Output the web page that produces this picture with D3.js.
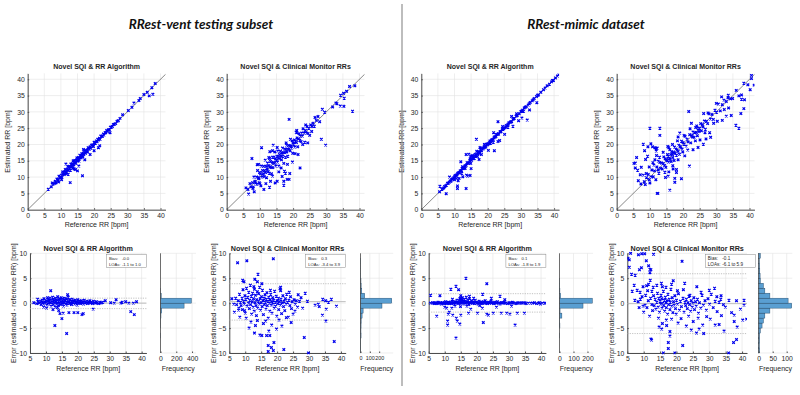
<!DOCTYPE html>
<html>
<head>
<meta charset="utf-8">
<script src="https://cdn.jsdelivr.net/npm/d3@7/dist/d3.min.js"></script>
<style>
body { margin: 0; background: #fff; }
text { font-family: "Liberation Sans", Arial, sans-serif; fill: #262626; }
.tick text { font-size: 6.8px; fill: #262626; }
.tick line, .domain { stroke: #4d4d4d; }
</style>
</head>
<body>
<svg id="fig" width="800" height="395"></svg>
<script>
// DATA: [reference RR, error (estimated - reference)]
const ventAlg = [
  [6.2,0.1],[7.1,-0.1],[7.4,0.8],[7.6,0.2],[8.0,0.0],[8.3,0.4],[8.5,-0.3],[8.8,0.6],[9.0,0.1],[9.2,-0.2],
  [9.4,0.9],[9.6,0.3],[9.9,0.0],[10.1,0.5],[10.3,-0.4],[10.5,1.1],[10.6,0.2],[10.8,0.7],[11.0,-0.2],[11.1,0.4],
  [11.3,1.0],[11.5,0.1],[11.6,-0.6],[11.8,0.6],[12.0,0.2],[12.1,1.2],[12.3,-0.3],[12.4,0.8],[12.6,0.0],[12.7,0.5],
  [12.9,-0.8],[13.0,1.0],[13.1,0.3],[13.3,-0.2],[13.4,0.7],[13.6,0.1],[13.7,1.3],[13.9,-0.5],[14.0,0.4],[14.2,0.9],
  [14.3,0.0],[14.5,-0.3],[14.6,0.6],[14.8,1.1],[14.9,0.2],[15.1,-0.1],[15.2,0.8],[15.4,0.3],[15.5,-0.6],[15.7,1.0],
  [15.8,0.1],[16.0,0.5],[16.1,-0.2],[16.3,0.9],[16.4,0.2],[16.6,-0.4],[16.7,0.6],[16.9,0.0],[17.0,1.2],[17.2,0.3],
  [17.4,-0.1],[17.5,0.7],[17.7,0.1],[17.9,0.4],[18.0,-0.3],[18.2,0.8],[18.4,0.2],[18.6,0.0],[18.8,0.5],[19.0,-0.2],
  [19.2,0.6],[19.4,0.1],[19.6,0.3],[19.8,-0.4],[20.0,0.7],[20.2,0.2],[20.4,0.0],[20.7,0.4],[20.9,-0.1],[21.1,0.5],
  [21.3,0.1],[21.6,0.3],[21.8,-0.2],[22.0,0.6],[22.3,0.2],[22.5,0.0],[22.8,0.4],[23.0,-0.1],[23.3,0.3],[23.5,0.1],
  [23.8,0.5],[24.0,0.0],[24.3,0.2],[24.6,-0.1],[24.9,0.4],[25.2,0.1],[25.5,0.0],[25.8,0.3],[26.1,0.1],[26.5,-0.1],
  [26.9,0.2],[27.3,0.0],[27.8,0.2],[28.6,0.5],[30.3,0.1],[31.4,0.0],[32.0,0.7],[33.5,0.0],[33.9,0.2],[35.0,0.3],
  [36.0,0.0],[37.4,0.0],[38.4,0.3],
  [11.5,2.5],[16.8,1.7],[12.8,-4.5],[16.5,-6.1],[15.0,-3.1],[14.4,-2.1],[15.4,-2.0],[17.2,-1.9],[18.8,-1.9],[20.0,-1.9],
  [21.3,-2.3],[21.7,-2.1],[13.6,-0.9],[36.6,-1.7],[37.7,-2.3],[10.2,-1.0],[12.2,-1.3],[14.0,-1.5],[24.8,-1.2],[9.3,-0.8]
];

const ventMon = [
  [7.6,8.1],[10.5,8.5],[18.8,8.9],[9.2,4.6],[9.6,4.3],[14.0,5.8],[13.0,4.8],[13.8,4.3],[21.1,3.2],[21.1,2.5],
  [28.8,2.0],[34.3,0.8],[37.0,0.8],[35.2,0.5],[32.9,-0.2],[33.2,-0.7],[31.9,-0.4],[29.5,0.4],[27.0,0.4],[25.7,-0.2],
  [35.4,-1.2],[34.2,-2.4],[35.3,-3.6],[37.9,-7.7],[28.5,-6.9],[29.8,-10.0],[19.0,-7.9],[17.2,-8.5],[17.2,-9.7],[18.2,-8.9],
  [18.8,-9.5],[22.1,-9.3],[16.7,-6.5],[17.7,-6.5],[14.6,-6.4],[15.2,-6.5],[12.9,-6.0],[17.4,-5.6],[21.5,-4.6],[18.3,-4.4],
  [15.7,-4.1],[13.8,-3.5],[11.8,-3.8],[10.3,-3.0],[8.3,-2.8],[6.6,-1.8],[5.8,0.9],[6.4,-0.2],[38.6,-0.6],[36.1,0.2],
  [7.0,1.0],[7.3,-0.3],[7.8,0.5],[8.0,-1.0],[8.2,1.8],[8.5,0.2],[8.7,-0.5],[9.0,1.0],[9.1,-1.3],[9.3,2.7],
  [9.5,0.4],[9.7,-0.2],[9.9,1.5],[10.0,-2.0],[10.2,0.8],[10.4,3.0],[10.6,-0.6],[10.8,1.2],[11.0,0.0],[11.1,2.2],
  [11.3,-1.1],[11.4,0.6],[11.6,3.6],[11.7,-0.3],[11.9,1.4],[12.0,-2.2],[12.2,0.3],[12.3,2.0],[12.5,-0.8],[12.6,0.9],
  [12.8,-1.6],[12.9,2.8],[13.1,0.1],[13.2,1.6],[13.4,-0.5],[13.5,-2.5],[13.6,0.7],[13.8,2.3],[13.9,-1.0],[14.1,0.4],
  [14.2,1.9],[14.4,-0.2],[14.5,3.2],[14.7,0.9],[14.8,-1.4],[15.0,0.1],[15.1,1.3],[15.3,-0.7],[15.4,2.6],[15.6,0.5],
  [15.7,-2.3],[15.9,1.0],[16.0,-0.3],[16.2,1.7],[16.3,0.2],[16.5,-1.2],[16.6,0.8],[16.8,2.1],[16.9,-0.5],[17.1,0.4],
  [17.2,-3.0],[17.4,1.2],[17.5,0.0],[17.7,-1.6],[17.8,0.7],[18.0,1.8],[18.1,-0.4],[18.3,0.3],[18.4,-2.0],[18.6,1.1],
  [18.7,-0.2],[18.9,0.6],[19.1,-1.0],[19.2,2.4],[19.4,0.2],[19.5,-0.6],[19.7,1.4],[19.9,-2.6],[20.0,0.5],[20.2,-0.1],
  [20.4,1.0],[20.5,-1.3],[20.7,0.3],[20.9,2.9],[21.0,-0.4],[21.2,0.8],[21.4,-2.1],[21.6,0.1],[21.8,1.5],[22.0,-0.7],
  [22.2,0.4],[22.4,-1.5],[22.6,0.9],[22.8,-0.2],[23.0,1.8],[23.3,0.2],[23.5,-2.8],[23.7,0.6],[24.0,-0.5],[24.2,1.3],
  [24.5,-1.1],[24.7,0.3],[25.0,-2.2],[25.3,0.7],[25.6,-1.6],[26.0,0.5],[26.4,-0.8],[27.5,1.1],[28.0,-1.0],[24.4,-3.9],
  [20.6,-3.4],[16.4,-3.6],[13.2,-4.5],[11.2,-5.0],[19.8,-5.2],[22.9,-2.9],[9.8,-1.5],[7.9,-1.4],[15.2,3.9],[12.7,3.3],
  [17.9,2.6],[26.6,1.7],[23.8,2.2]
];

const mimicAlg = [
  [5.6,1.6],[8.5,1.5],[16.6,5.0],[23.1,3.9],[13.5,3.4],[11.9,2.8],[14.3,2.7],[15.0,1.5],[17.7,1.4],[21.8,1.8],
  [24.5,1.0],[27.2,1.4],[14.9,1.0],[15.4,0.7],[7.5,-2.6],[10.6,-1.0],[10.0,-0.8],[12.2,-1.0],[11.1,-2.2],[11.4,-1.8],
  [12.5,-2.4],[13.6,-3.0],[13.9,-3.6],[10.9,-3.6],[10.9,-4.4],[14.7,-4.2],[13.5,-7.0],[15.0,-2.4],[17.4,-2.0],[20.2,-2.0],
  [22.0,-3.9],[23.1,-2.2],[23.6,-2.4],[25.1,-2.0],[27.6,-2.0],[29.3,-2.0],[30.3,-2.2],[31.9,-4.4],[32.6,-2.0],[34.8,-2.0],
  [5.5,0.0],[6.2,0.1],[6.8,-0.1],[7.3,0.0],[7.9,0.2],[8.4,0.0],[8.9,-0.2],[9.3,0.1],[9.8,0.0],[10.2,0.3],
  [10.7,0.0],[11.1,0.2],[11.5,-0.1],[11.9,0.0],[12.3,0.4],[12.7,0.1],[13.0,-0.2],[13.4,0.0],[13.8,0.6],[14.1,0.2],
  [14.4,-0.1],[14.7,0.9],[15.0,0.3],[15.2,0.0],[15.5,1.1],[15.7,0.5],[16.0,-0.2],[16.2,0.8],[16.5,0.2],[16.7,1.2],
  [17.0,0.0],[17.2,0.6],[17.5,-0.3],[17.7,0.9],[18.0,0.1],[18.3,0.5],[18.6,0.0],[18.9,0.3],[19.2,-0.1],[19.5,0.6],
  [19.8,0.0],[20.1,0.2],[20.4,-0.2],[20.7,0.4],[21.0,0.0],[21.3,0.2],[21.6,-0.1],[22.0,0.3],[22.3,0.0],[22.6,0.5],
  [23.0,0.1],[23.3,-0.1],[23.7,0.2],[24.0,0.0],[24.4,0.4],[24.8,0.1],[25.2,-0.1],[25.6,0.2],[26.0,0.0],[26.4,0.3],
  [26.8,0.0],[27.2,-0.2],[27.6,0.1],[28.0,0.0],[28.5,0.2],[29.0,0.0],[29.5,-0.1],[30.0,0.1],[30.5,0.0],[31.0,0.2],
  [31.6,0.0],[32.2,-0.1],[32.8,0.1],[33.4,0.0],[34.0,0.1],[34.7,0.0],[35.3,-0.1],[36.0,0.0],[36.8,0.0],[37.9,0.1],
  [38.6,-0.1],[39.2,0.0],[39.8,-0.2],[41.0,0.0],[41.4,0.0],[12.4,0.8],[13.2,-0.6],[16.9,-0.6],[19.0,1.0],[20.9,-0.5],
  [14.9,-0.7],[18.1,-1.2],[21.7,-1.0],[26.1,-0.8],[28.7,0.7],[30.8,-0.6],
  [6.5,0.0],[7.0,0.1],[7.6,-0.1],[8.1,0.0],[8.7,0.1],[9.1,0.0],[9.6,-0.1],[10.0,0.1],[10.5,-0.1],[10.9,0.1],
  [11.3,0.0],[11.7,0.2],[12.1,-0.1],[12.5,0.1],[12.9,0.0],[13.2,0.3],[13.6,0.1],[14.2,0.0],[14.6,0.4],[15.1,0.1],
  [15.6,0.0],[16.1,0.3],[16.6,0.0],[17.1,0.3],[17.6,0.1],[18.1,0.0],[18.8,0.1],[19.4,0.0],[20.0,0.0],[20.6,0.1],
  [21.2,0.0],[21.9,0.1],[22.5,0.0],[23.2,0.1],[23.9,0.0],[24.6,0.1],[25.4,0.0],[26.2,0.1],[27.0,0.0],[27.8,0.1],
  [28.8,0.0],[30.2,0.0],[31.3,0.1],[32.5,0.0],[33.7,0.0],[35.0,0.1],[37.3,0.0],[39.5,0.1],[40.4,0.0]
];

const mimicMon = [
  [5.6,8.7],[5.6,7.2],[6.3,5.8],[7.4,5.6],[8.7,6.7],[9.3,7.1],[8.4,9.7],[9.4,9.9],[10.3,9.9],[13.0,9.8],
  [10.8,8.5],[11.5,7.5],[11.9,6.8],[12.2,6.7],[11.9,6.1],[7.1,3.6],[8.0,2.6],[8.9,2.2],[9.5,1.3],[9.8,-0.6],
  [10.4,-0.4],[7.3,0.6],[8.3,0.3],[21.7,8.4],[9.8,3.3],[10.9,3.5],[11.5,3.8],[11.2,2.5],[12.5,2.4],[12.9,3.2],
  [14.0,3.6],[15.4,4.0],[15.7,3.3],[16.8,3.2],[18.5,3.8],[20.3,2.5],[22.1,2.7],[26.2,3.3],[24.1,1.6],[31.6,3.0],
  [32.3,1.3],[33.5,0.8],[38.3,0.5],[34.3,-0.3],[40.6,-0.4],[36.8,-1.9],[37.6,-2.4],[37.6,-3.7],[40.2,-3.4],[31.8,-4.4],
  [33.0,-4.3],[34.5,-5.6],[37.4,-7.9],[35.9,-10.0],[26.9,-5.2],[26.1,-6.0],[28.3,-6.1],[25.1,-3.7],[26.6,-3.0],[29.2,-2.7],
  [30.3,-3.2],[23.7,-2.6],[21.4,-3.1],[21.9,-8.5],[15.5,-5.2],[18.0,-5.7],[18.0,-6.6],[17.5,-7.9],[17.5,-9.1],[19.5,-10.0],
  [16.0,-10.0],[12.4,-7.4],[14.7,-4.8],[15.7,-4.1],[16.9,-3.4],[18.5,-3.2],[19.9,-2.2],
  [10.0,15.0],[13.0,12.0],[36.8,-11.8],[8.0,12.1],[6.0,10.0],[5.2,9.0],[12.2,-7.2],[38.3,-7.3],[41.4,-3.2],[40.6,0.6],
  [13.0,1.5],[13.2,-0.5],[13.5,0.8],[13.7,-1.2],[14.0,0.2],[14.2,2.0],[14.4,-0.8],[14.6,1.0],[14.8,-1.8],[15.0,0.4],
  [15.2,-0.2],[15.3,1.6],[15.5,0.9],[15.6,-1.0],[15.8,0.0],[16.0,2.4],[16.1,-0.5],[16.3,0.6],[16.4,-1.6],[16.6,1.2],
  [16.8,0.1],[16.9,-0.9],[17.1,0.5],[17.3,-2.2],[17.4,1.8],[17.6,-0.3],[17.8,0.8],[18.0,-1.3],[18.1,0.2],[18.3,2.8],
  [18.5,-0.6],[18.7,1.1],[18.9,-1.9],[19.1,0.3],[19.3,-0.4],[19.5,1.5],[19.7,-1.1],[20.0,0.6],[20.3,-0.2],[20.6,1.9],
  [20.9,-1.4],[21.2,0.4],[21.5,-0.7],[22.0,1.0],[22.3,-1.8],[22.6,0.2],[22.8,-0.5],[23.0,0.8],[23.3,-1.1],[23.5,0.1],
  [23.8,1.4],[24.0,-0.3],[24.3,-1.6],[24.5,0.5],[24.8,-0.8],[25.0,0.0],[25.3,1.1],[25.5,-1.3],[25.8,0.3],[26.0,-0.6],
  [26.4,0.8],[26.7,-2.0],[27.0,0.1],[27.4,-1.0],[27.8,1.6],[28.2,-0.4],[28.7,0.5],[29.1,-1.4],[29.6,0.9],[30.1,-0.2],
  [30.6,1.8],[31.2,-0.9],[31.8,0.4],[32.4,-1.7],[33.0,0.2],[33.6,1.5],[34.9,-0.8],[36.0,0.6],[39.5,-1.2],[9.0,0.8],
  [10.0,-1.8],[10.6,1.6],[11.0,-0.9],[11.4,0.5],[11.8,-2.6],[12.1,1.0],[12.5,-0.3],[12.7,-1.5],[6.5,2.4],[8.6,-0.9],
  [12.0,4.6],[14.5,-3.0],[17.0,-4.5],[20.5,-4.0],[23.0,-4.6],[28.0,-4.4],[30.0,2.6],[22.5,4.0],[19.0,4.5],[24.5,-5.4],
  [33.7,-2.5],[38.5,-4.8],[27.5,2.2]
];

// histogram counts, 1 bpm bins from -10 to 10 (lowest bin first)
const histBins = d3.range(-10, 10);
const histVentAlg   = [0,0,0,1,0,1,1,6,15,299,392,9,1,0,0,0,0,0,0,0];
const histVentMon   = [3,3,3,6,5,6,7,17,28,230,335,45,14,7,5,3,1,1,3,0];
const histMimicAlg  = [0,0,0,1,0,3,2,17,4,168,235,8,3,2,1,0,0,0,0,0];
const histMimicMon  = [3,2,3,3,6,12,17,22,40,118,105,40,22,17,6,5,4,3,2,6];

// bias and limits of agreement
const biasLabels = ["-0.0", "0.3", "0.1", "-0.1"];
const biasVals = [-0.0, 0.3, 0.1, -0.1];
const loaLow   = [-1.1, -3.4, -1.8, -6.1];
const loaHigh  = [1.0, 3.9, 1.9, 5.9];

const scatterTicks = [0, 5, 10, 15, 20, 25, 30, 35, 40];
const baTicksX = [5, 10, 15, 20, 25, 30, 35, 40];
const baTicksY = [-10, -5, 0, 5, 10];
const histTicks = [[0, 200, 400], [0, 100, 200], [0, 100, 200], [0, 50, 100]];

const panelTitles = ["Novel SQI & RR Algorithm", "Novel SQI & Clinical Monitor RRs",
                     "Novel SQI & RR Algorithm", "Novel SQI & Clinical Monitor RRs"];
const datasets = [ventAlg, ventMon, mimicAlg, mimicMon];
const histCounts = [histVentAlg, histVentMon, histMimicAlg, histMimicMon];

const svg = d3.select("#fig");
const blue = "#0000ee";
const gridColor = "#e3e3e3";
const xMark = "M-1.3,-1.3L1.3,1.3M-1.3,1.3L1.3,-1.3";

// layout
const topX0 = [27.7, 226.7, 421.3, 616.7];
const baX = [[30, 146.4], [229.3, 345.7], [428.7, 545.9], [627.3, 747]];
const histX = [[160.5, 196, 450], [360.5, 393.2, 350], [559.5, 593.1, 240], [758.7, 792.3, 120]];
const histTickFont = ["6.8px", "5.4px", "6.8px", "6.8px"];
const legendBox = [[106.4, 40], [305.7, 40], [505.9, 40], [705.3, 50]];

const defs = svg.append("defs");

function drawScatter(i) {
  const data = datasets[i];
  const x = d3.scaleLinear().domain([0, 41.5]).range([topX0[i], topX0[i] + 41.5 * 3.32]);
  const y = d3.scaleLinear().domain([0, 41.8]).range([209.7, 73.4]);
  const g = svg.append("g");

  defs.append("clipPath").attr("id", "clipT" + i).append("rect")
    .attr("x", x(0)).attr("y", y(41.8)).attr("width", x(41.5) - x(0)).attr("height", y(0) - y(41.8));

  g.selectAll(".gx").data(scatterTicks).join("line")
    .attr("x1", d => x(d)).attr("x2", d => x(d)).attr("y1", y(0)).attr("y2", y(41.8))
    .attr("stroke", gridColor).attr("stroke-width", 0.6);
  g.selectAll(".gy").data(scatterTicks).join("line")
    .attr("y1", d => y(d)).attr("y2", d => y(d)).attr("x1", x(0)).attr("x2", x(41.5))
    .attr("stroke", gridColor).attr("stroke-width", 0.6);

  g.append("g").attr("transform", `translate(0,${y(0)})`)
    .call(d3.axisBottom(x).tickValues(scatterTicks).tickSizeInner(-1.5).tickSizeOuter(0).tickPadding(3.5));
  g.append("g").attr("transform", `translate(${x(0)},0)`)
    .call(d3.axisLeft(y).tickValues(scatterTicks).tickSizeInner(-1.5).tickSizeOuter(0).tickPadding(3));

  const clipped = g.append("g").attr("clip-path", `url(#clipT${i})`);
  clipped.append("line")
    .attr("x1", x(0)).attr("y1", y(0)).attr("x2", x(45)).attr("y2", y(45))
    .attr("stroke", "#555").attr("stroke-width", 0.7);
  clipped.selectAll("path.pt").data(data).join("path")
    .attr("class", "pt")
    .attr("d", xMark)
    .attr("transform", d => `translate(${x(d[0])},${y(d[0] + d[1])})`)
    .attr("stroke", blue).attr("stroke-width", 1.2).attr("fill", "none");

  g.append("text").attr("x", (x(0) + x(41.5)) / 2).attr("y", 69)
    .attr("text-anchor", "middle").style("font-size", "7px").style("font-weight", "bold")
    .text(panelTitles[i]);
  g.append("text").attr("x", (x(0) + x(41.5)) / 2).attr("y", 226.8)
    .attr("text-anchor", "middle").style("font-size", "7px")
    .text("Reference RR [bpm]");
  g.append("text")
    .attr("transform", `translate(${x(0) - 20},${(y(0) + y(41.8)) / 2}) rotate(-90)`)
    .attr("dy", "0.35em").attr("text-anchor", "middle").style("font-size", "7px")
    .text("Estimated RR [bpm]");
}

function drawBlandAltman(i) {
  const data = datasets[i];
  const x = d3.scaleLinear().domain([5, 41.5]).range(baX[i]);
  const y = d3.scaleLinear().domain([-10, 10]).range([353, 253.3]);
  const g = svg.append("g");

  defs.append("clipPath").attr("id", "clipB" + i).append("rect")
    .attr("x", x(5)).attr("y", y(10) - 1.5).attr("width", x(41.5) - x(5)).attr("height", y(-10) - y(10) + 3);

  g.selectAll(".gx").data(baTicksX).join("line")
    .attr("x1", d => x(d)).attr("x2", d => x(d)).attr("y1", y(-10)).attr("y2", y(10))
    .attr("stroke", gridColor).attr("stroke-width", 0.6);
  g.selectAll(".gy").data(baTicksY).join("line")
    .attr("y1", d => y(d)).attr("y2", d => y(d)).attr("x1", x(5)).attr("x2", x(41.5))
    .attr("stroke", gridColor).attr("stroke-width", 0.6);

  g.append("g").attr("transform", `translate(0,${y(-10)})`)
    .call(d3.axisBottom(x).tickValues(baTicksX).tickSizeInner(-1.5).tickSizeOuter(0).tickPadding(3.5));
  g.append("g").attr("transform", `translate(${x(5)},0)`)
    .call(d3.axisLeft(y).tickValues(baTicksY).tickSizeInner(-1.5).tickSizeOuter(0).tickPadding(3));

  // bias and limits of agreement
  g.append("line").attr("x1", x(5)).attr("x2", x(41.5))
    .attr("y1", y(biasVals[i])).attr("y2", y(biasVals[i]))
    .attr("stroke", "#bdbdbd").attr("stroke-width", 1);
  [loaLow[i], loaHigh[i]].forEach(v => {
    g.append("line").attr("x1", x(5)).attr("x2", x(41.5))
      .attr("y1", y(v)).attr("y2", y(v))
      .attr("stroke", "#a8a8a8").attr("stroke-width", 0.7).attr("stroke-dasharray", "1.2,1.2");
  });

  g.append("g").attr("clip-path", `url(#clipB${i})`)
    .selectAll("path.pt").data(data).join("path")
    .attr("class", "pt")
    .attr("d", xMark)
    .attr("transform", d => `translate(${x(d[0])},${y(d[1])})`)
    .attr("stroke", blue).attr("stroke-width", 1.2).attr("fill", "none");

  // legend box
  const [bx, bw] = legendBox[i];
  const lg = g.append("g");
  lg.append("rect").attr("x", bx).attr("y", 254.3).attr("width", bw).attr("height", 13)
    .attr("fill", "#fff").attr("stroke", "#8a8a8a").attr("stroke-width", 0.5);
  const fs = i === 3 ? "4.6px" : "4.2px";
  const vx = i === 3 ? 17 : 15.5;
  lg.append("text").attr("x", bx + 2.5).attr("y", 260.3).style("font-size", fs).text("Bias:");
  lg.append("text").attr("x", bx + vx).attr("y", 260.3).style("font-size", fs).text(biasLabels[i]);
  lg.append("text").attr("x", bx + 2.5).attr("y", 266.2).style("font-size", fs).text("LOAs:");
  lg.append("text").attr("x", bx + vx).attr("y", 266.2).style("font-size", fs)
    .text(`${loaLow[i].toFixed(1)} to ${loaHigh[i].toFixed(1)}`);

  g.append("text").attr("x", (x(5) + x(41.5)) / 2).attr("y", 250.8)
    .attr("text-anchor", "middle").style("font-size", "7.2px").style("font-weight", "bold")
    .text(panelTitles[i]);
  g.append("text").attr("x", (x(5) + x(41.5)) / 2).attr("y", 370.5)
    .attr("text-anchor", "middle").style("font-size", "7px")
    .text("Reference RR [bpm]");
  g.append("text")
    .attr("transform", `translate(${x(5) - 16},${(y(-10) + y(10)) / 2}) rotate(-90)`)
    .attr("dy", "0.35em").attr("text-anchor", "middle").style("font-size", "7px")
    .text("Error (estimated - reference RR) [bpm]");

  // histogram of errors
  const [hx0, hx1, hmax] = histX[i];
  const hx = d3.scaleLinear().domain([0, hmax]).range([hx0, hx1]);
  const hg = svg.append("g");
  hg.selectAll(".gx").data(histTicks[i]).join("line")
    .attr("x1", d => hx(d)).attr("x2", d => hx(d)).attr("y1", y(-10)).attr("y2", y(10))
    .attr("stroke", gridColor).attr("stroke-width", 0.6);
  hg.selectAll(".gy").data(baTicksY).join("line")
    .attr("y1", d => y(d)).attr("y2", d => y(d)).attr("x1", hx0).attr("x2", hx1)
    .attr("stroke", gridColor).attr("stroke-width", 0.6);
  hg.selectAll("rect.bar").data(histBins.map((b, k) => [b, histCounts[i][k]]).filter(d => d[1] > 0))
    .join("rect").attr("class", "bar")
    .attr("x", hx(0)).attr("y", d => y(d[0] + 1))
    .attr("width", d => hx(d[1]) - hx(0)).attr("height", d => y(d[0]) - y(d[0] + 1))
    .attr("fill", "#5a9fd2").attr("stroke", "#1d3f5e").attr("stroke-width", 0.4);
  hg.append("g").attr("transform", `translate(0,${y(-10)})`)
    .call(d3.axisBottom(hx).tickValues(histTicks[i]).tickSizeInner(-1.5).tickSizeOuter(0).tickPadding(3.5))
    .call(a => a.select(".domain").remove())
    .call(a => a.selectAll(".tick text").style("font-size", histTickFont[i]));
  hg.append("line").attr("x1", hx0).attr("x2", hx0).attr("y1", y(-10)).attr("y2", y(10))
    .attr("stroke", "#4d4d4d").attr("stroke-width", 0.8);
  hg.append("text").attr("x", (hx0 + hx1) / 2).attr("y", 370.5)
    .attr("text-anchor", "middle").style("font-size", "7px")
    .text("Frequency");
}

for (let i = 0; i < 4; i++) {
  drawScatter(i);
  drawBlandAltman(i);
}

// headings and divider
svg.append("text").attr("x", 201).attr("y", 29).attr("text-anchor", "middle")
  .style("font-family", "Lato, 'Liberation Sans', sans-serif")
  .style("font-size", "13.5px").style("font-weight", "bold").style("font-style", "italic")
  .style("fill", "#111")
  .text("RRest-vent testing subset");
svg.append("text").attr("x", 586).attr("y", 29).attr("text-anchor", "middle")
  .style("font-family", "Lato, 'Liberation Sans', sans-serif")
  .style("font-size", "13.5px").style("font-weight", "bold").style("font-style", "italic")
  .style("fill", "#111")
  .text("RRest-mimic dataset");
svg.append("line").attr("x1", 402).attr("x2", 402).attr("y1", 4).attr("y2", 386)
  .attr("stroke", "#9a9a9a").attr("stroke-width", 1.3);
</script>
</body>
</html>
